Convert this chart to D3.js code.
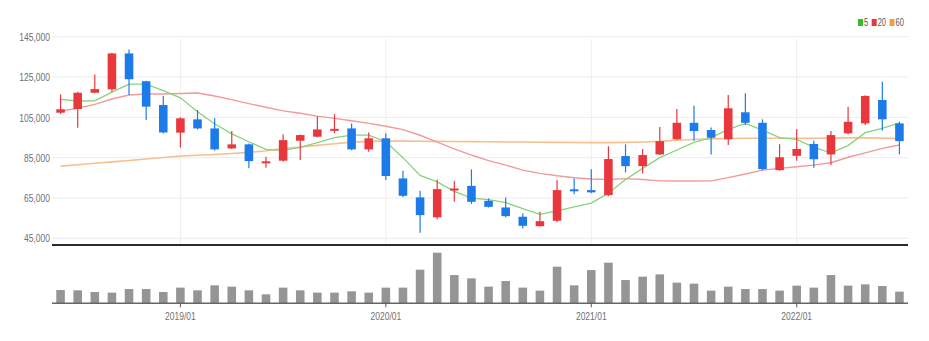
<!DOCTYPE html>
<html>
<head>
<meta charset="utf-8">
<script src="https://cdn.jsdelivr.net/npm/d3@7/dist/d3.min.js"></script>
<style>
  html, body { margin: 0; padding: 0; background: #fff; }
  svg { display: block; }
  .axis text { font-family: "Liberation Sans", "DejaVu Sans", sans-serif; }
</style>
</head>
<body>
<svg id="chart" width="929" height="341"></svg>
<script>
// Monthly candles, 2018/06 – 2022/07
const months = [
  "2018/06","2018/07","2018/08","2018/09","2018/10","2018/11","2018/12",
  "2019/01","2019/02","2019/03","2019/04","2019/05","2019/06","2019/07","2019/08","2019/09","2019/10","2019/11","2019/12",
  "2020/01","2020/02","2020/03","2020/04","2020/05","2020/06","2020/07","2020/08","2020/09","2020/10","2020/11","2020/12",
  "2021/01","2021/02","2021/03","2021/04","2021/05","2021/06","2021/07","2021/08","2021/09","2021/10","2021/11","2021/12",
  "2022/01","2022/02","2022/03","2022/04","2022/05","2022/06","2022/07"
];

const open  = [107300,109100,117200,118900,136700,122900,111100,97400,104000,99500,89600,91600,82500,83500,93400,95400,99000,99500,89100,94600,74700,65300,55400,69000,71000,63600,60300,55700,51000,53700,69300,68900,66400,85800,80800,86600,94100,102300,98700,94100,107500,102300,78800,85900,91800,86600,97100,102000,113600,102000];
const close = [109000,117200,119000,136700,123900,110300,97500,104500,99500,89100,91600,83300,83200,93700,96200,99000,99300,89100,94600,75900,66100,56500,69400,69700,63100,60600,56000,51200,53500,68900,68800,67800,84300,80800,86300,93200,102300,98200,94900,109500,102300,79300,85200,89300,84200,96200,102800,115600,104000,93200];
const high  = [116400,117700,126300,137000,138700,123100,115600,105000,108600,104500,98200,92000,85400,96600,96500,105600,106600,102000,97500,97100,78500,68600,74200,73500,79200,64800,65300,57400,58200,73900,74700,79300,90700,91600,89300,100200,109100,110800,100000,116100,116900,104000,91700,99200,93400,98200,110300,116000,122700,102800];
const low   = [106600,99800,117000,117700,116100,103700,97000,90100,99000,88500,89300,79700,80000,83000,83800,95000,97100,88700,87900,73900,65500,47700,54500,63100,62100,60300,55500,49900,50800,53000,66800,67300,65900,77700,77200,86300,93800,93400,86600,91300,101200,78800,78500,83500,80000,81300,96500,101200,98400,86600];

// Moving averages (5, 20, 60 months)
const ma5  = [113900,113100,113200,117500,121500,121500,118200,114700,107800,101800,96800,92900,89100,88600,90100,92400,94900,96200,96200,92900,85000,76200,73000,68300,64900,64200,62700,59700,56900,58600,60600,62500,67400,74200,79700,85000,88800,92600,94900,99000,102000,98700,94900,94100,90100,87400,91000,97400,99500,102300];
const ma20 = [108100,109500,111400,114100,116100,116600,116600,116800,117100,115600,113800,111800,110000,108200,107000,105600,104500,103300,102000,100600,98900,96100,92700,89400,86300,83500,81300,78800,77200,76000,75000,74400,74200,74600,74200,73500,73400,73400,73500,75100,76900,78800,79700,80500,81300,82500,85200,87400,89600,91300];
const ma60 = [80800,81500,82200,82900,83600,84300,85100,85800,86200,86600,87100,87600,88400,89500,90300,91100,91900,92700,93100,93200,93200,93150,93100,93000,92950,92900,92800,92750,92650,92600,92500,92450,92450,92600,92800,93100,93600,94000,94300,94500,94600,94600,94600,94600,94600,94700,94800,94800,94700,94500];

const volume = [1330000,1300000,1130000,1070000,1430000,1430000,1130000,1570000,1300000,1800000,1670000,1300000,900000,1570000,1300000,1070000,1070000,1200000,1070000,1570000,1570000,3370000,5070000,2830000,2500000,1670000,2230000,1570000,1270000,3670000,1800000,3330000,4070000,2330000,2670000,2900000,2070000,1970000,1270000,1670000,1430000,1430000,1270000,1770000,1570000,2830000,1770000,1900000,1730000,1170000];

const priceTicks = [45000, 65000, 85000, 105000, 125000, 145000];
const timeTicks = ["2019/01", "2020/01", "2021/01", "2022/01"];

const legendItems = [
  { label: "5",  color: "#2fbf2f" },
  { label: "20", color: "#e8383d" },
  { label: "60", color: "#f0a040" }
];

const UP = "#e8383d", DOWN = "#1c7be8";

// Layout
const left = 52, right = 908;
const priceTop = 36.7, priceGridBottom = 238.3, priceAxisY = 245;
const volBase = 303.3, volTop = 252.7;
const squeeze = "scale(0.74,1)"; // condensed label glyphs

const svg = d3.select("#chart");

const x = d3.scaleBand().domain(months).range([left, right]).paddingInner(0.5).paddingOuter(0.25);
const cx = m => x(m) + x.bandwidth() / 2;
const y = d3.scaleLinear().domain([45000, 145000]).range([priceGridBottom, priceTop]);
const yv = d3.scaleLinear().domain([0, d3.max(volume)]).range([volBase, volTop]);

// Horizontal grid
svg.append("g").selectAll("line").data(priceTicks).join("line")
  .attr("x1", left).attr("x2", right)
  .attr("y1", d => y(d)).attr("y2", d => y(d))
  .attr("stroke", "#ececec").attr("stroke-width", 1);

// Vertical grid at year starts
svg.append("g").selectAll("line").data(timeTicks).join("line")
  .attr("x1", d => cx(d)).attr("x2", d => cx(d))
  .attr("y1", 39).attr("y2", priceAxisY)
  .attr("stroke", "#efefef").attr("stroke-width", 1);

// Price axis labels
const yAxis = svg.append("g").attr("class", "axis")
  .attr("transform", `translate(${left - 2},0)`)
  .call(d3.axisLeft(y).tickValues(priceTicks).tickSize(0).tickPadding(0).tickFormat(d3.format(",")));
yAxis.select(".domain").remove();
yAxis.selectAll("text").attr("fill", "#707070").style("font-size", "11.5px").attr("transform", squeeze);

// Moving average lines
const maLine = arr => d3.line().x((d, i) => cx(months[i])).y(d => y(d)).curve(d3.curveLinear)(arr);
svg.append("path").attr("d", maLine(ma60)).attr("fill", "none").attr("stroke", "#f6c08e").attr("stroke-width", 1.6);
svg.append("path").attr("d", maLine(ma20)).attr("fill", "none").attr("stroke", "#f29a9a").attr("stroke-width", 1.4);
svg.append("path").attr("d", maLine(ma5)).attr("fill", "none").attr("stroke", "#86d47a").attr("stroke-width", 1.3);

// Candles
const candles = svg.append("g").selectAll("g").data(months).join("g");
candles.append("line")
  .attr("x1", (d) => cx(d)).attr("x2", (d) => cx(d))
  .attr("y1", (d, i) => y(high[i])).attr("y2", (d, i) => y(low[i]))
  .attr("stroke", (d, i) => close[i] >= open[i] ? UP : DOWN)
  .attr("stroke-width", 1.2);
candles.append("rect")
  .attr("x", d => x(d))
  .attr("width", x.bandwidth())
  .attr("y", (d, i) => y(Math.max(open[i], close[i])))
  .attr("height", (d, i) => Math.max(2, Math.abs(y(open[i]) - y(close[i]))))
  .attr("fill", (d, i) => close[i] >= open[i] ? UP : DOWN);

// Price panel bottom border
svg.append("line").attr("x1", left).attr("x2", right)
  .attr("y1", priceAxisY).attr("y2", priceAxisY)
  .attr("stroke", "#2a2a2a").attr("stroke-width", 2);

// Volume bars
svg.append("g").selectAll("rect").data(months).join("rect")
  .attr("x", d => x(d))
  .attr("width", x.bandwidth())
  .attr("y", (d, i) => yv(volume[i]))
  .attr("height", (d, i) => volBase - yv(volume[i]))
  .attr("fill", "#959595");

// Time axis
const xAxis = svg.append("g").attr("class", "axis")
  .attr("transform", `translate(0,${volBase})`)
  .call(d3.axisBottom(x).tickValues(timeTicks).tickSize(4).tickPadding(5));
xAxis.select(".domain").attr("d", `M${left},0H${right}`).attr("stroke", "#666").attr("stroke-width", 1.5);
xAxis.selectAll(".tick line").attr("stroke", "#555");
xAxis.selectAll("text").attr("fill", "#707070").style("font-size", "11.5px").attr("transform", squeeze);

// Legend
const lg = svg.append("g").attr("transform", "translate(858,23)");
let lx = 0;
legendItems.forEach(item => {
  lg.append("rect").attr("x", lx).attr("y", -4).attr("width", 5).attr("height", 7).attr("fill", item.color);
  const t = lg.append("text").attr("x", (lx + 6) / 0.75).attr("y", 3)
    .attr("transform", "scale(0.75,1)")
    .attr("font-family", "'Liberation Sans', 'DejaVu Sans', sans-serif")
    .attr("font-size", 10).attr("fill", "#555").text(item.label);
  lx += 6 + t.node().getComputedTextLength() * 0.75 + 3.5;
});
</script>
</body>
</html>
